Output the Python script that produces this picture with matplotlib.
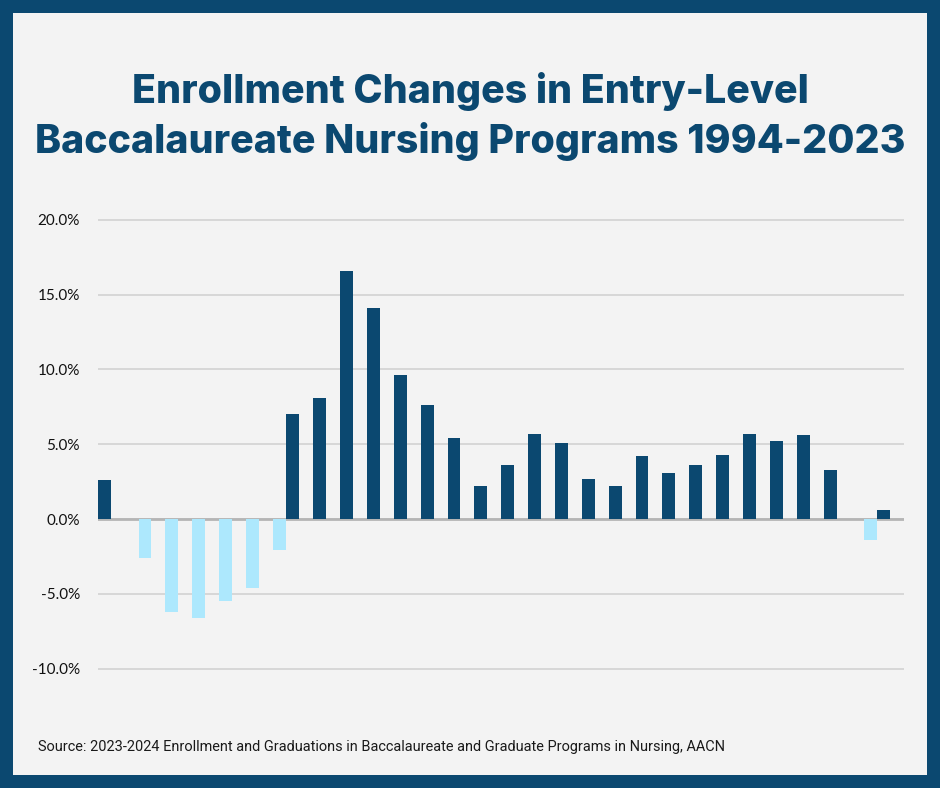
import numpy as np
import matplotlib
matplotlib.use("Agg")
import matplotlib.pyplot as plt
from matplotlib.patches import Rectangle
from matplotlib.ticker import FuncFormatter

# ---- data ----
years = list(range(1994, 2024))
pct_change = [2.6, -2.6, -6.2, -6.6, -5.5, -4.6, -2.1, 7.0, 8.1, 16.6,
              14.1, 9.6, 7.6, 5.4, 2.2, 3.6, 5.7, 5.1, 2.7, 2.2,
              4.2, 3.1, 3.6, 4.3, 5.7, 5.2, 5.6, 3.3, -1.4, 0.6]
y_ticks = [-10, -5, 0, 5, 10, 15, 20]
title_lines = ["Enrollment Changes in Entry-Level",
               "Baccalaureate Nursing Programs 1994-2023"]
source = "Source: 2023-2024 Enrollment and Graduations in Baccalaureate and Graduate Programs in Nursing, AACN"

DARK = "#0b4870"
LIGHT = "#ade8fd"
BG = "#f3f3f3"

vals = np.array(pct_change)
increase = np.where(vals >= 0, vals, np.nan)
decrease = np.where(vals < 0, vals, np.nan)
x = np.arange(len(years))

fig = plt.figure(figsize=(9.4, 7.88), dpi=100)
fig.patch.set_facecolor(DARK)
W, H = 940, 788
fig.patches.append(Rectangle((13 / W, 1 - 775 / H), (927 - 13) / W, (775 - 13) / H,
                             transform=fig.transFigure, facecolor=BG, edgecolor="none", zorder=-5))

ax = fig.add_axes([98 / W, 1 - 671.7 / H, 806 / W, 455 / H])
ax.set_zorder(2)
ax.set_facecolor("none")
bw = 0.48
ax.bar(x - 0.25, increase, width=bw, color=DARK, zorder=3)
ax.bar(x + 0.25, decrease, width=bw, color=LIGHT, zorder=3)
ax.set_xlim(-0.5, len(years) - 0.5)
ax.set_ylim(-10.2, 20.2)
ax.set_yticks(y_ticks)
ax.yaxis.set_major_formatter(FuncFormatter(lambda v, p: f"{v:.1f}%"))
ax.grid(axis="y", color="#d2d2d2", linewidth=1.2, zorder=0)
ax.axhline(0, color="#b5b5b5", linewidth=2, zorder=2)
ax.set_xticks([])
for s in ax.spines.values():
    s.set_visible(False)
ax.tick_params(axis="y", length=0, pad=13, labelsize=11, labelcolor="#111111")
for lab in ax.get_yticklabels():
    lab.set_fontfamily("Lato")

fig.text(470 / W, 1 - 103 / H, title_lines[0], ha="center", va="baseline", fontsize=28.3,
         fontfamily="Inter", fontweight="heavy", color=DARK)
fig.text(470 / W, 1 - 153 / H, title_lines[1], ha="center", va="baseline", fontsize=28.3,
         fontfamily="Inter", fontweight="heavy", color=DARK)
fig.text(38 / W, 1 - 747 / H, source, ha="left", va="center", fontsize=10.45,
         fontfamily="Roboto", color="#1a1a1a")

fig.savefig("out.png", dpi=100, facecolor=fig.get_facecolor())
